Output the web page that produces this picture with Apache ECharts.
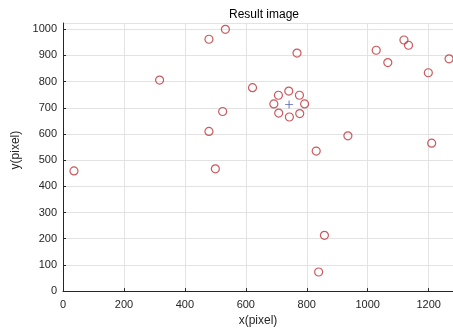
<!DOCTYPE html>
<html>
<head>
<meta charset="utf-8">
<script src="https://cdn.jsdelivr.net/npm/echarts@6/dist/echarts.min.js"></script>
<style>
  html, body { margin: 0; padding: 0; background: #fff; }
  #chart { width: 453px; height: 332px; }
</style>
</head>
<body>
<div id="chart"></div>
<script>
// detected points (image pixel coords)
const pointX = [533, 479, 317, 524, 479, 500, 36, 768, 622, 935, 831, 1028, 1119, 1134, 1066, 1199, 1267, 1210, 858, 839,
  741, 776, 793, 777, 743, 708, 692, 707];
const pointY = [1000, 962, 806, 686, 610, 467, 459, 909, 777, 593, 535, 920, 959, 939, 873, 834, 887, 565, 213, 73,
  764, 748, 715, 678, 665, 680, 715, 748];
// estimated center
const centerX = [742];
const centerY = [713];

const xTicks = { min: 0, max: 1280, interval: 200 };
const yTicks = { min: 0, max: 1024, interval: 100 };

const chart = echarts.init(document.getElementById("chart"), null, { renderer: "canvas" });

const font = "'Liberation Sans', Arial, sans-serif";
const axisCommon = {
  type: "value",
  nameLocation: "middle",
  nameTextStyle: { fontFamily: font, fontSize: 12, color: "#262626" },
  axisLine: { show: true, lineStyle: { color: "#262626", width: 1 } },
  axisTick: { show: true, inside: true, length: 3, lineStyle: { color: "#262626" } },
  axisLabel: { fontFamily: font, fontSize: 11, color: "#262626", showMaxLabel: false, formatter: (v) => String(v) },
  splitLine: { show: true, lineStyle: { color: "#e3e3e3", width: 1 } },
};

chart.setOption({
  animation: false,
  backgroundColor: "#fff",
  title: {
    text: "Result image",
    left: 259,
    textAlign: "center",
    top: 4,
    textStyle: { fontFamily: font, fontSize: 12, fontWeight: "normal", color: "#000" },
  },
  grid: { left: 63, right: -3, top: 23, bottom: 40, containLabel: false },
  xAxis: Object.assign({}, axisCommon, {
    name: "x(pixel)",
    nameGap: 21,
    min: xTicks.min,
    max: xTicks.max,
    interval: xTicks.interval,
    axisLabel: Object.assign({}, axisCommon.axisLabel, { margin: 8 }),
  }),
  yAxis: Object.assign({}, axisCommon, {
    name: "y(pixel)",
    nameGap: 36,
    nameTextStyle: Object.assign({}, axisCommon.nameTextStyle, { padding: [0, 0, 0, 14] }),
    min: yTicks.min,
    max: yTicks.max,
    interval: yTicks.interval,
    axisLabel: Object.assign({}, axisCommon.axisLabel, { margin: 6 }),
  }),
  series: [
    {
      type: "scatter",
      data: pointX.map((x, i) => [x, pointY[i]]),
      symbol: "circle",
      symbolSize: 8,
      itemStyle: { color: "rgba(0,0,0,0)", borderColor: "#bf2f36", borderWidth: 1.2 },
    },
    {
      type: "scatter",
      data: centerX.map((x, i) => [x, centerY[i]]),
      symbol: "path://M4,0h1v9h-1zM0,4h9v1h-9z",
      symbolSize: 8,
      itemStyle: { color: "#2b3f9e" },
    },
  ],
});
</script>
</body>
</html>
